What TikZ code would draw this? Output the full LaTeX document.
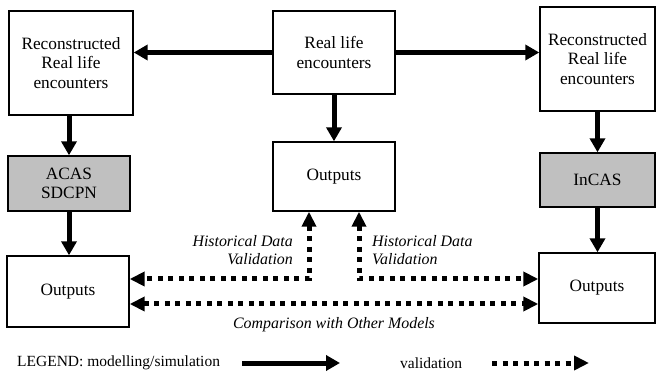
\documentclass[tikz,border=0pt]{standalone}
\usepackage{fontspec}
\setmainfont{Liberation Serif}
\usetikzlibrary{arrows.meta,calc}
\begin{document}
\begin{tikzpicture}[x=1pt,y=-1pt,
  box/.style={draw,line width=1.4pt,inner sep=0pt,align=center,font=\fontsize{17.3}{19.5}\selectfont},
  gbox/.style={box,fill={rgb,255:red,192;green,192;blue,192}},
  arr/.style={line width=5pt,-{Triangle[length=14pt,width=15pt]}},
  dotarr/.style={line width=5pt,dash pattern=on 5pt off 5.5pt,{Triangle[length=15pt,width=14pt]}-{Triangle[length=15pt,width=14pt]}},
  dotone/.style={line width=5pt,dash pattern=on 5pt off 5.5pt,-{Triangle[length=15pt,width=14pt]}},
  lab/.style={font=\itshape\fontsize{15.9}{18.5}\selectfont,inner sep=0pt},
  leg/.style={font=\fontsize{15.5}{18}\selectfont,inner sep=0pt}]
\useasboundingbox (0,0) rectangle (657,377);
\node[box,minimum width=124pt,minimum height=104pt] (L1) at (71,63) {Reconstructed\\Real life\\encounters};
\node[gbox,minimum width=122pt,minimum height=55pt] (L2) at (69,183.5) {ACAS\\SDCPN};
\node[box,minimum width=122pt,minimum height=71pt] (L3) at (68,291.5) {Outputs};
\node[box,minimum width=122pt,minimum height=83pt] (C1) at (334,52.5) {Real life\\encounters};
\node[box,minimum width=122pt,minimum height=69pt] (C2) at (334,176.5) {Outputs};
\node[box,minimum width=115pt,minimum height=104pt] (R1) at (597.5,59) {Reconstructed\\Real life\\encounters};
\node[gbox,minimum width=115pt,minimum height=54pt] (R2) at (597.5,180) {InCAS};
\node[box,minimum width=116pt,minimum height=70pt] (R3) at (597,288) {Outputs};
% solid arrows
\draw[arr] (C1.west) -- (L1.east |- C1.west);
\draw[arr] (C1.east) -- (R1.west |- C1.east);
\draw[arr] (C1.south) -- (C2.north);
\draw[arr] (L2.north |- L1.south) -- (L2.north);
\draw[arr] (L2.south) -- (L2.south |- L3.north);
\draw[arr] (R2.north |- R1.south) -- (R2.north);
\draw[arr] (R2.south) -- (R2.south |- R3.north);
% dotted validation
\coordinate (h1) at (309,279);
\coordinate (h2) at (359,279);
\coordinate (cmp) at (0,304);
\draw[dotarr] (C2.south -| h1) -- (h1) -- (L3.east |- h1);
\draw[dotarr] (C2.south -| h2) -- (h2) -- (R3.west |- h2);
\draw[dotarr] (L3.east |- cmp) -- (R3.west |- cmp);
\node[lab,anchor=north east,align=right] (t1) at (293,235) {Historical Data\\Validation};
\node[lab,anchor=north west,align=left] (t2) at (372,235) {Historical Data\\Validation};
\node[lab] (t3) at (334,325) {Comparison with Other Models};
% legend
\node[leg,anchor=west] (lg1) at (17,363) {LEGEND: modelling/simulation};
\coordinate (a1) at (242,363);
\coordinate (a2) at (340,363);
\draw[arr] (a1) -- (a2);
\node[leg,anchor=west] (lg2) at (400,363) {validation};
\coordinate (b1) at (492,363);
\coordinate (b2) at (589,363);
\draw[dotone] (b1) -- (b2);
\end{tikzpicture}
\end{document}
